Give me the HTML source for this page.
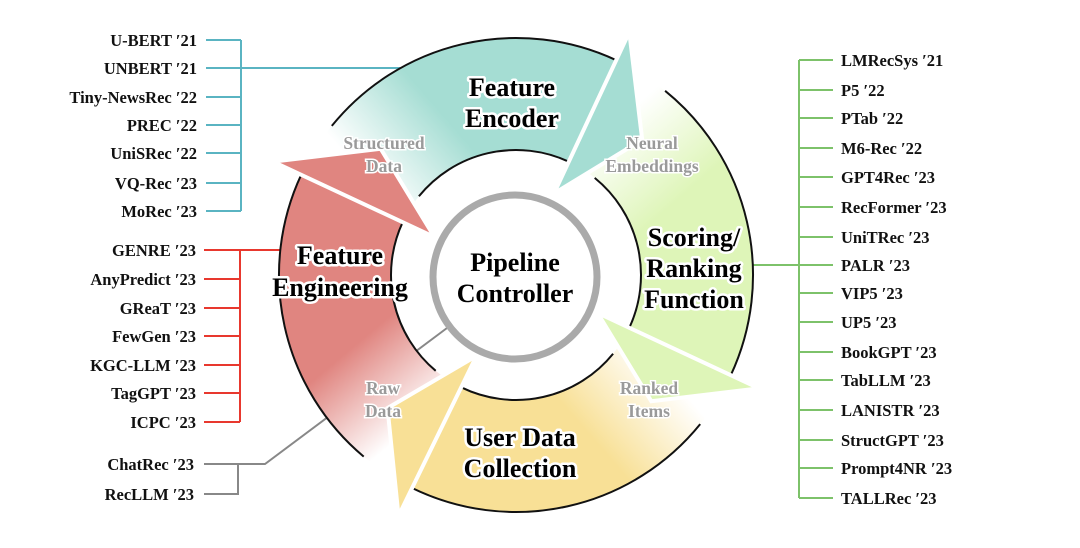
<!DOCTYPE html>
<html><head><meta charset="utf-8"><style>
html,body{margin:0;padding:0;background:#fff;}
svg{display:block;}
.l{font-family:"Liberation Serif",serif;font-weight:bold;font-size:16.5px;fill:#111;}
.big{font-family:"Liberation Serif",serif;font-weight:bold;font-size:26px;fill:#000;stroke:#fff;stroke-width:5px;paint-order:stroke;stroke-linejoin:round;text-anchor:middle;}
.sub{font-family:"Liberation Serif",serif;font-weight:bold;font-size:17.5px;fill:#9a9a9a;stroke:#fff;stroke-width:3px;paint-order:stroke;text-anchor:middle;}
</style></head><body>
<svg id="s" width="1080" height="548" viewBox="0 0 1080 548" xmlns="http://www.w3.org/2000/svg">
<g id="conn" fill="none" stroke-width="2">
<path d="M206 40H241M206 68H400M206 97H241M206 125H241M206 153H241M206 183H241M206 211H241M241 40V211" stroke="#5ab4c2"/>
<path d="M204 250H284M204 279H240M204 308H240M204 336H240M204 365H240M204 393H240M204 422H240M240 250V422" stroke="#e8382e"/>
<path d="M204 464H265L447 328M204 494H238V464" stroke="#888"/>
<path d="M752 265H799M799 60V498M799 60H833M799 90H833M799 118H833M799 148H833M799 177H833M799 207H833M799 237H833M799 265H833M799 293H833M799 322H833M799 352H833M799 380H833M799 410H833M799 440H833M799 468H833M799 498H833" stroke="#7dc26a"/>
</g>
<defs id="defs"></defs>
<g id="ring"></g>
<circle cx="515" cy="277" r="82" fill="#fff" stroke="#aaa" stroke-width="7"/>
<text class="big" x="515" y="271">Pipeline</text>
<text class="big" x="515" y="302">Controller</text>
<text class="big" x="512" y="96">Feature</text>
<text class="big" x="512" y="127">Encoder</text>
<text class="big" x="694" y="246">Scoring/</text>
<text class="big" x="694" y="277">Ranking</text>
<text class="big" x="694" y="308">Function</text>
<text class="big" x="340" y="264">Feature</text>
<text class="big" x="340" y="296">Engineering</text>
<text class="big" x="520" y="446">User Data</text>
<text class="big" x="520" y="477">Collection</text>
<text class="sub" x="384" y="149">Structured</text>
<text class="sub" x="384" y="172">Data</text>
<text class="sub" x="652" y="149">Neural</text>
<text class="sub" x="652" y="172">Embeddings</text>
<text class="sub" x="383" y="394">Raw</text>
<text class="sub" x="383" y="417">Data</text>
<text class="sub" x="649" y="394">Ranked</text>
<text class="sub" x="649" y="417">Items</text>
<g class="l" text-anchor="end">
<text x="197" y="46">U-BERT ′21</text>
<text x="197" y="74">UNBERT  ′21</text>
<text x="197" y="103">Tiny-NewsRec ′22</text>
<text x="197" y="131">PREC ′22</text>
<text x="197" y="159">UniSRec ′22</text>
<text x="197" y="189">VQ-Rec ′23</text>
<text x="197" y="217">MoRec ′23</text>
<text x="196" y="256">GENRE ′23</text>
<text x="196" y="285">AnyPredict ′23</text>
<text x="196" y="314">GReaT ′23</text>
<text x="196" y="342">FewGen ′23</text>
<text x="196" y="371">KGC-LLM ′23</text>
<text x="196" y="399">TagGPT ′23</text>
<text x="196" y="428">ICPC ′23</text>
<text x="194" y="470">ChatRec ′23</text>
<text x="194" y="500">RecLLM ′23</text>
</g>
<g class="l">
<text x="841" y="66">LMRecSys ′21</text>
<text x="841" y="96">P5 ′22</text>
<text x="841" y="124">PTab ′22</text>
<text x="841" y="154">M6-Rec ′22</text>
<text x="841" y="183">GPT4Rec ′23</text>
<text x="841" y="213">RecFormer ′23</text>
<text x="841" y="243">UniTRec ′23</text>
<text x="841" y="271">PALR ′23</text>
<text x="841" y="299">VIP5 ′23</text>
<text x="841" y="328">UP5 ′23</text>
<text x="841" y="358">BookGPT ′23</text>
<text x="841" y="386">TabLLM ′23</text>
<text x="841" y="416">LANISTR ′23</text>
<text x="841" y="446">StructGPT ′23</text>
<text x="841" y="474">Prompt4NR ′23</text>
<text x="841" y="504">TALLRec ′23</text>
</g>
</svg>
<script>
(function(){
var cx=516,cy=275,R=237,r=125;
function P(a,rad){a=a*Math.PI/180;return [cx+rad*Math.cos(a),cy+rad*Math.sin(a)];}
function f(p){return p[0].toFixed(1)+" "+p[1].toFixed(1);}
var arrows=[
 {a0:116,a1:205,c:"#e08580"},
 {a0:205,a1:295,c:"#a5ddd3"},
 {a0:295,a1:385,c:"#def5b8"},
 {a0:25,a1:116,c:"#f8e096"}];
var defs=document.getElementById("defs"),ring=document.getElementById("ring");
var bodies="",heads="";
arrows.forEach(function(A,i){
 var g1=P(A.a0+8,180),g2=P(A.a0+40,180);
 defs.innerHTML+='<linearGradient id="g'+i+'" gradientUnits="userSpaceOnUse" x1="'+g1[0]+'" y1="'+g1[1]+'" x2="'+g2[0]+'" y2="'+g2[1]+'"><stop offset="0" stop-color="#fff"/><stop offset="1" stop-color="'+A.c+'"/></linearGradient>';
 var o0=P(A.a0,R),o1=P(A.a1,R),i1=P(A.a1,r),i0=P(A.a0,r);
 bodies+='<path d="M'+f(o0)+' A'+R+' '+R+' 0 0 1 '+f(o1)+' L'+f(i1)+' A'+r+' '+r+' 0 0 0 '+f(i0)+'Z" fill="url(#g'+i+')"/>';
 var s0=P(A.a0+14,R),s1=P(A.a0+14,r);
 bodies+='<path d="M'+f(s0)+' A'+R+' '+R+' 0 0 1 '+f(o1)+'M'+f(s1)+' A'+r+' '+r+' 0 0 1 '+f(i1)+'" fill="none" stroke="#111" stroke-width="2"/>';
 var b1=P(A.a1,268),b2=P(A.a1,90),t=P(A.a1+18,185);
 heads+='<path d="M'+f(b1)+' L'+f(t)+' L'+f(b2)+'Z" fill="'+A.c+'" stroke="#fff" stroke-width="4" stroke-linejoin="miter"/>';
});
ring.innerHTML=bodies+heads;
})();
</script>
</body></html>
